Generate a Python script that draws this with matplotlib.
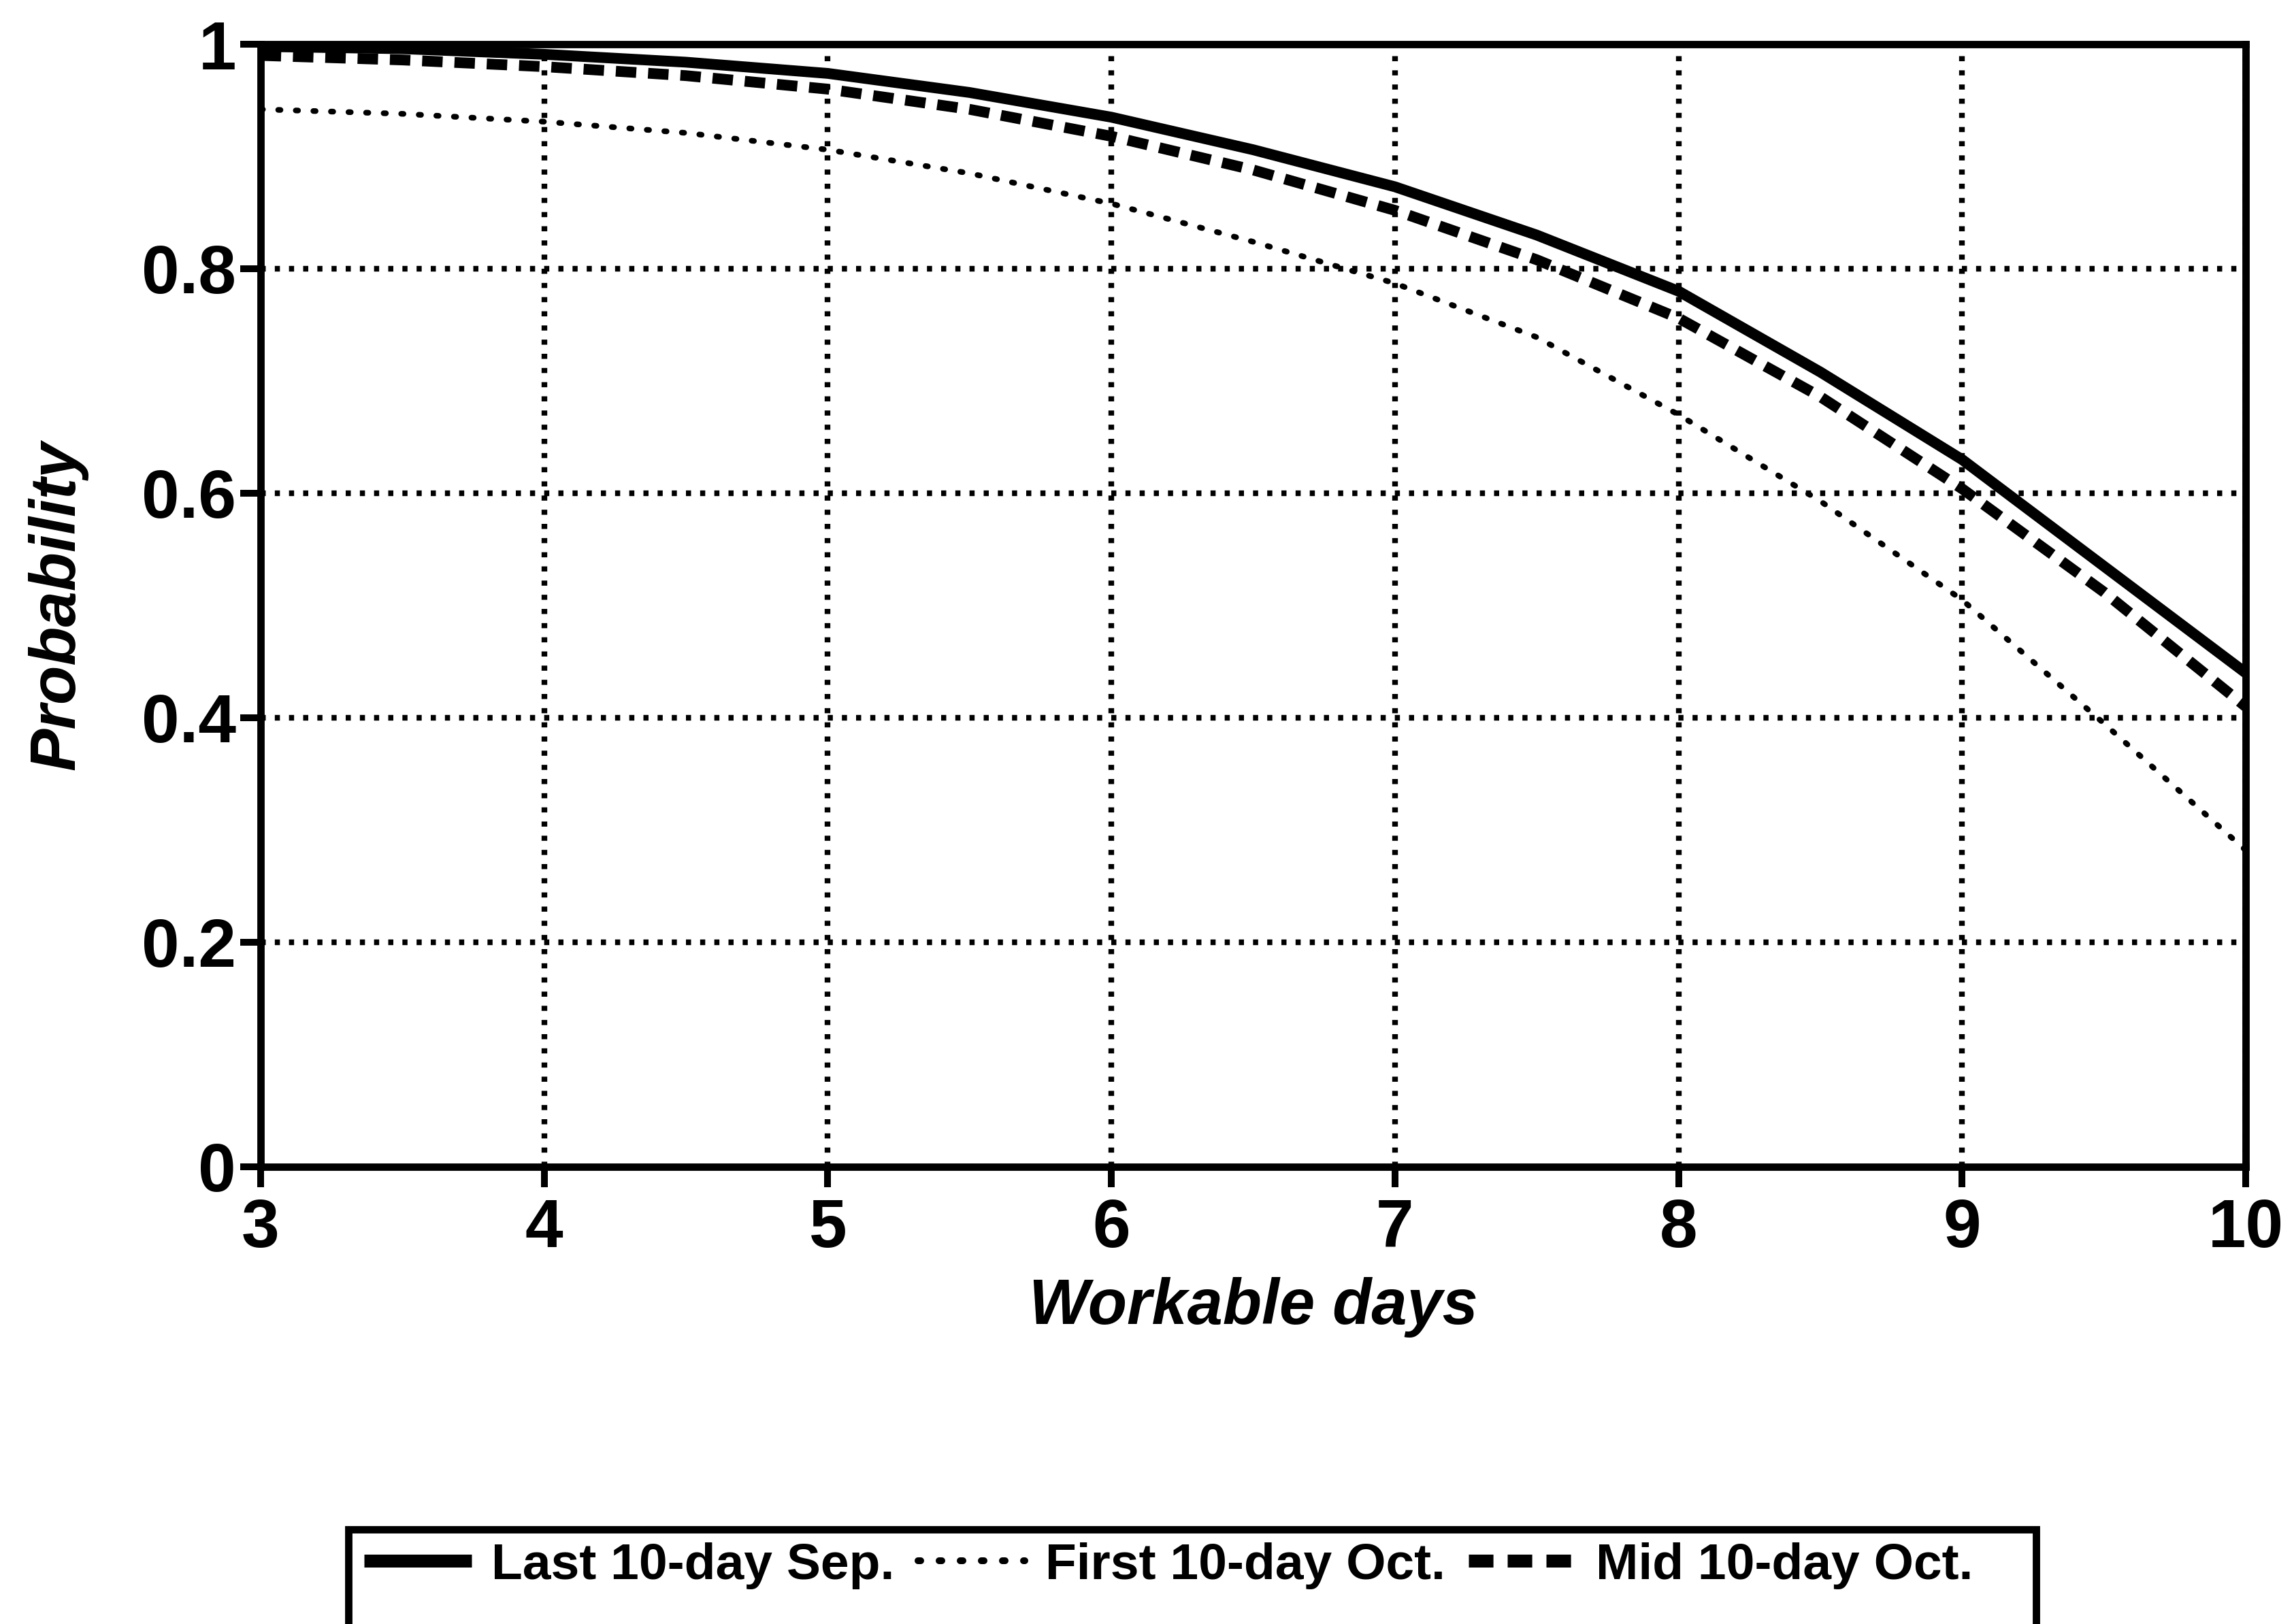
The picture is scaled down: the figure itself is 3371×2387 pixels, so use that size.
"""Probability of reaching a given number of workable days, by sowing period."""

import matplotlib

matplotlib.use("Agg")

import matplotlib.pyplot as plt
from matplotlib import font_manager
from matplotlib.patches import Rectangle

# Workable days (x) and probability of at least that many workable days.
workable_days = [3, 3.5, 4, 4.5, 5, 5.5, 6, 6.5, 7, 7.5, 8, 8.5, 9, 9.5, 10]
last_sep = [0.998, 0.996, 0.991, 0.984, 0.974, 0.957, 0.935, 0.906, 0.873,
            0.830, 0.780, 0.708, 0.630, 0.535, 0.440]
first_oct = [0.942, 0.938, 0.931, 0.921, 0.906, 0.885, 0.858, 0.824, 0.787,
             0.739, 0.670, 0.593, 0.505, 0.395, 0.282]
mid_oct = [0.990, 0.986, 0.980, 0.972, 0.960, 0.942, 0.918, 0.888, 0.852,
           0.808, 0.756, 0.686, 0.604, 0.512, 0.410]

series_labels = ["Last 10-day Sep.", "First 10-day Oct.", "Mid 10-day Oct."]
x_ticks = [3, 4, 5, 6, 7, 8, 9, 10]
y_ticks = [0, 0.2, 0.4, 0.6, 0.8, 1.0]
y_tick_labels = ["0", "0.2", "0.4", "0.6", "0.8", "1"]

# Narrow Helvetica look for labels/legend when the narrow face is installed.
installed = {f.name for f in font_manager.fontManager.ttflist}
if "Liberation Sans Narrow" in installed:
    LABEL_FONT, LABEL_SIZE, LEGEND_SIZE = "Liberation Sans Narrow", 26, 20.5
else:
    LABEL_FONT, LABEL_SIZE, LEGEND_SIZE = "Liberation Sans", 22.5, 18

plt.rcParams["font.family"] = ["Liberation Sans", "DejaVu Sans"]

W, H, DPI = 3371, 2387, 300
fig = plt.figure(figsize=(W / DPI, H / DPI), dpi=DPI)
fig.patch.set_facecolor("white")

left, right, top, bottom = 383, 3300, 65, 1715
ax = fig.add_axes([left / W, 1 - bottom / H, (right - left) / W, (bottom - top) / H])

ax.plot(workable_days, last_sep, color="black", lw=3.8, ls="-",
        solid_capstyle="butt", solid_joinstyle="round",
        label=series_labels[0], zorder=4)
ax.plot(workable_days, first_oct, color="black", lw=2.0, ls=(0, (0.4, 2.7)),
        dash_capstyle="round", label=series_labels[1], zorder=3)
ax.plot(workable_days, mid_oct, color="black", lw=3.8, ls=(0, (1.9, 1.1)),
        dash_capstyle="butt", label=series_labels[2], zorder=3)

ax.set_xlim(3, 10)
ax.set_ylim(0, 1)
ax.set_xticks(x_ticks)
ax.set_yticks(y_ticks)
ax.set_yticklabels(y_tick_labels)

ax.grid(True, color="black", lw=2.0, ls=(0, (0.9, 1.6)))
ax.set_axisbelow(True)

for side in ["left", "right", "top", "bottom"]:
    ax.spines[side].set_linewidth(2.6)
    ax.spines[side].set_color("black")
    ax.spines[side].set_zorder(5)

ax.tick_params(axis="both", direction="out", length=7.2, width=2.4,
               labelsize=24, colors="black")
ax.tick_params(axis="x", pad=3.6)
ax.tick_params(axis="y", pad=1.5)
for lbl in ax.get_xticklabels() + ax.get_yticklabels():
    lbl.set_fontweight("bold")

ax.set_xlabel("Workable days", fontsize=LABEL_SIZE, fontweight="bold",
              fontstyle="italic", family=[LABEL_FONT, "DejaVu Sans"])
ax.set_ylabel("Probability", fontsize=LABEL_SIZE, fontweight="bold",
              fontstyle="italic", family=[LABEL_FONT, "DejaVu Sans"])
ax.xaxis.set_label_coords(0.5, -0.098)
ax.yaxis.set_label_coords(-0.087, 0.5)

# Legend row below the plot; its frame runs off the bottom edge of the figure.
leg = fig.legend(
    loc="center left",
    bbox_to_anchor=(535 / W, 1 - 2301 / H),
    ncol=3,
    frameon=False,
    borderpad=0,
    borderaxespad=0,
    handlelength=2.1,
    handletextpad=0.40,
    columnspacing=0.45,
    prop={"family": [LABEL_FONT, "DejaVu Sans"], "weight": "bold",
          "size": LEGEND_SIZE},
)
for handle in leg.legend_handles:
    handle.set_linewidth(handle.get_linewidth() * 1.2)

frame_left, frame_right, frame_top = 512, 2992, 2248
fig.patches.append(Rectangle(
    (frame_left / W, -0.05),
    (frame_right - frame_left) / W,
    (H - frame_top) / H + 0.05,
    transform=fig.transFigure, fill=False, edgecolor="black", lw=2.6,
    clip_on=False,
))

fig.savefig("out.png", dpi=DPI, facecolor="white")
